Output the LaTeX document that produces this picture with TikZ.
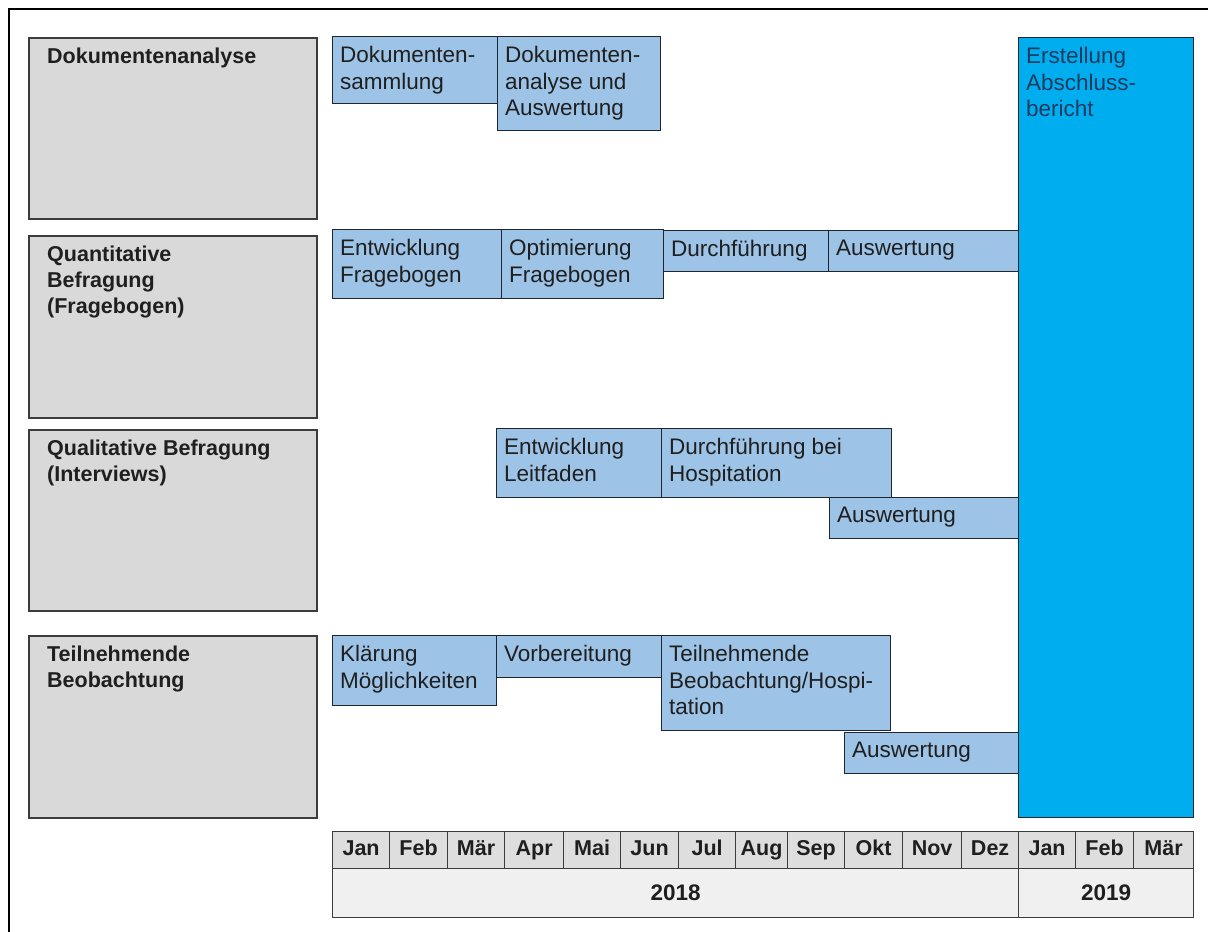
\documentclass[tikz,border=0pt]{standalone}
\usepackage{fontspec}
\setmainfont{Liberation Sans}
\definecolor{greyfill}{HTML}{D9D9D9}
\definecolor{greyline}{HTML}{3C3C3C}
\definecolor{taskfill}{HTML}{9DC3E6}
\definecolor{taskline}{HTML}{1E2630}
\definecolor{finfill}{HTML}{00AEEF}
\definecolor{fintext}{HTML}{1F3A60}
\definecolor{monthfill}{HTML}{DEDEDE}
\definecolor{yearfill}{HTML}{F0F0F0}
\newcommand\mkbox[8]{%
  \node[#6, minimum width=#4pt-#2pt, minimum height=#5pt-#3pt] (#1) at (#2,#3) {};
  \node[#7] (#1-t) at (#1.north west) {#8};}
\begin{document}
\begin{tikzpicture}[x=1pt,y=-1pt,
  grp/.style={draw=greyline, fill=greyfill, line width=1.6pt, inner sep=0pt, anchor=north west},
  tsk/.style={draw=taskline, fill=taskfill, line width=1.2pt, inner sep=0pt, anchor=north west},
  fin/.style={draw=taskline, fill=finfill, line width=1.2pt, inner sep=0pt, anchor=north west},
  glbl/.style={anchor=north west, align=left, inner xsep=19pt, inner ysep=11pt,
    font=\fontsize{21.5}{26}\selectfont\bfseries, text=black!88},
  tlbl/.style={anchor=north west, align=left, inner xsep=8pt, inner ysep=10pt,
    font=\fontsize{22.5}{26.5}\selectfont, text=black!88},
  flbl/.style={tlbl, text=fintext},
  mcell/.style={draw=greyline, fill=monthfill, line width=1.2pt, inner sep=0pt, anchor=north west,
    font=\fontsize{21.5}{24}\selectfont\bfseries, text=black!88, text height=15pt, text depth=4pt},
  ycell/.style={draw=greyline, fill=yearfill, line width=1.2pt, inner sep=0pt, anchor=north west,
    font=\fontsize{22.5}{24}\selectfont\bfseries, text=black!88}]
\useasboundingbox (0,0) rectangle (1208,932);
\fill[white] (0,0) rectangle (1208,932);
\draw[line width=2pt] (9,932) -- (9,9) -- (1208,9);

% row labels
\mkbox{g1}{28}{37}{316}{218}{grp}{glbl}{Dokumentenanalyse}
\mkbox{g2}{28}{235}{316}{417}{grp}{glbl}{Quantitative\\Befragung\\(Fragebogen)}
\mkbox{g3}{28}{429}{316}{610}{grp}{glbl}{Qualitative Befragung\\(Interviews)}
\mkbox{g4}{28}{635}{316}{817}{grp}{glbl}{Teilnehmende\\Beobachtung}

% tasks
\mkbox{t11}{332}{36}{497}{103}{tsk}{tlbl}{Dokumenten-\\sammlung}
\mkbox{t12}{497}{36}{660}{130}{tsk}{tlbl}{Dokumenten-\\analyse und\\Auswertung}
\mkbox{t21}{332}{229}{501}{298}{tsk}{tlbl}{Entwicklung\\Fragebogen}
\mkbox{t22}{501}{229}{663}{298}{tsk}{tlbl}{Optimierung\\Fragebogen}
\mkbox{t23}{663}{230}{828}{271}{tsk}{tlbl}{Durchführung}
\mkbox{t24}{828}{230}{1018}{271}{tsk}{tlbl}{Auswertung}
\mkbox{t31}{496}{428}{661}{497}{tsk}{tlbl}{Entwicklung\\Leitfaden}
\mkbox{t32}{661}{428}{891}{497}{tsk}{tlbl}{Durchführung bei\\Hospitation}
\mkbox{t33}{829}{497}{1018}{538}{tsk}{tlbl}{Auswertung}
\mkbox{t41}{332}{635}{496}{705}{tsk}{tlbl}{Klärung\\Möglichkeiten}
\mkbox{t42}{496}{635}{661}{677}{tsk}{tlbl}{Vorbereitung}
\mkbox{t43}{661}{635}{890}{730}{tsk}{tlbl}{Teilnehmende\\Beobachtung/Hospi-\\tation}
\mkbox{t44}{844}{732}{1018}{773}{tsk}{tlbl}{Auswertung}
\mkbox{fin}{1018}{37}{1193}{817}{fin}{flbl}{Erstellung\\Abschluss-\\bericht}

% months
\foreach \a/\b/\m [count=\i] in {332/389/Jan,389/447/Feb,447/504/Mär,504/563/Apr,563/620/Mai,
  620/678/Jun,678/735/Jul,735/787/Aug,787/844/Sep,844/902/Okt,902/961/Nov,961/1018/Dez,
  1018/1075/Jan,1075/1133/Feb,1133/1193/Mär}
  \node[mcell, minimum width=\b pt-\a pt, minimum height=37pt] (m\i) at (\a,831) {\m};
\node[ycell, minimum width=686pt, minimum height=49pt] (y2018) at (332,868) {2018};
\node[ycell, minimum width=175pt, minimum height=49pt] (y2019) at (1018,868) {2019};
\end{tikzpicture}
\end{document}
